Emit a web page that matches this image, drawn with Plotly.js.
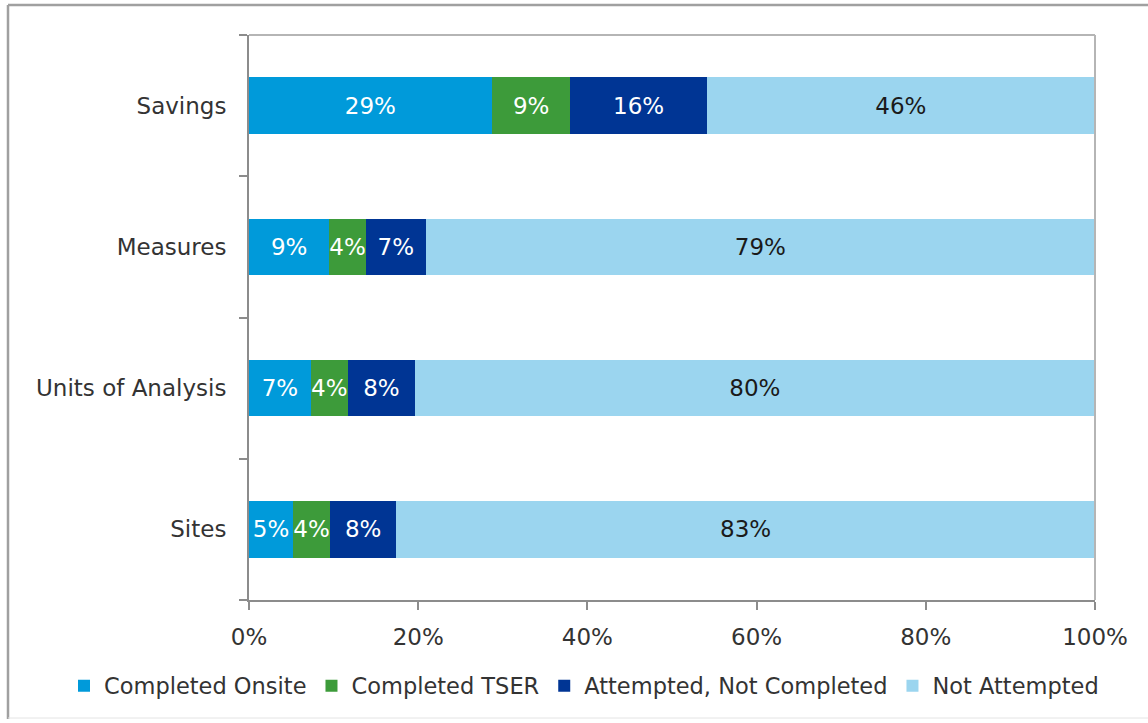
<!DOCTYPE html>
<html>
<head>
<meta charset="utf-8">
<script src="https://cdn.plot.ly/plotly-3.0.1.min.js"></script>
<style>
  html, body { margin: 0; padding: 0; background: #fff; }
  #chart { width: 1148px; height: 723px; }
</style>
</head>
<body>
<div id="chart"></div>
<script>
// ---- Data ----
const categories = ["Sites", "Units of Analysis", "Measures", "Savings"];
const seriesNames = ["Completed Onsite", "Completed TSER", "Attempted, Not Completed", "Not Attempted"];
const completedOnsite = [5.2, 7.3, 9.5, 28.7];
const completedTSER = [4.4, 4.4, 4.3, 9.3];
const attemptedNotCompleted = [7.8, 7.9, 7.1, 16.1];
const notAttempted = [82.6, 80.4, 79.1, 45.9];
const onsiteLabels = ["5%", "7%", "9%", "29%"];
const tserLabels = ["4%", "4%", "4%", "9%"];
const attemptedLabels = ["8%", "8%", "7%", "16%"];
const notAttemptedLabels = ["83%", "80%", "79%", "46%"];
const xTickVals = [0, 20, 40, 60, 80, 100];
const xTickText = ["0%", "20%", "40%", "60%", "80%", "100%"];

// ---- Styles ----
const colors = ["#009ADA", "#3D9B3A", "#003594", "#9BD5EF"];
const textColors = ["#FFFFFF", "#FFFFFF", "#FFFFFF", "#1a1a1a"];
const FONT = "DejaVu Sans, Verdana, sans-serif";
const FS = 23;

const values = [completedOnsite, completedTSER, attemptedNotCompleted, notAttempted];
const labels = [onsiteLabels, tserLabels, attemptedLabels, notAttemptedLabels];

const traces = seriesNames.map((name, i) => ({
  type: "bar",
  orientation: "h",
  name: name,
  y: categories,
  x: values[i],
  text: labels[i],
  textposition: "inside",
  insidetextanchor: "middle",
  textangle: 0,
  constraintext: "none",
  cliponaxis: false,
  textfont: { family: FONT, size: FS, color: textColors[i] },
  marker: { color: colors[i], line: { width: 0 } },
  hoverinfo: "skip"
}));

// pixel helpers for decorative frame (plot area 249..1095 x 35..600)
const L = 249, R = 1095, T = 35, B = 600;
const px = p => (p - L) / (R - L);
const py = q => (B - q) / (B - T);

const layout = {
  width: 1148,
  height: 723,
  margin: { l: L, r: 1148 - R, t: T, b: 723 - B, pad: 0, autoexpand: false },
  paper_bgcolor: "#ffffff",
  plot_bgcolor: "#ffffff",
  barmode: "stack",
  bargap: 0.6,
  showlegend: true,
  font: { family: FONT, size: FS, color: "#333333" },
  legend: {
    orientation: "h",
    x: px(64), xanchor: "left",
    y: py(686), yanchor: "middle",
    traceorder: "normal",
    bgcolor: "rgba(0,0,0,0)",
    font: { family: FONT, size: 22.5, color: "#333333" },
    itemclick: false
  },
  xaxis: {
    range: [0, 100],
    tickvals: xTickVals,
    ticktext: xTickText,
    ticks: "outside",
    ticklen: 8,
    tickcolor: "#8c8c8c",
    tickwidth: 2,
    showline: true,
    linecolor: "#8c8c8c",
    linewidth: 2,
    showgrid: false,
    zeroline: false,
    tickangle: 0,
    ticklabelstandoff: 7,
    tickfont: { family: FONT, size: FS, color: "#333333" },
    fixedrange: true
  },
  yaxis: {
    type: "category",
    categoryorder: "array",
    categoryarray: categories,
    ticks: "outside",
    tickson: "boundaries",
    ticklen: 8,
    tickcolor: "#8c8c8c",
    tickwidth: 2,
    showline: true,
    linecolor: "#8c8c8c",
    linewidth: 2,
    showgrid: false,
    zeroline: false,
    ticklabelstandoff: 16,
    tickfont: { family: FONT, size: FS, color: "#333333" },
    fixedrange: true
  },
  shapes: [
    // plot-area top and right borders
    { type: "line", xref: "paper", yref: "paper", x0: 0, x1: 1, y0: 1, y1: 1,
      line: { color: "#b5b5b5", width: 2 } },
    { type: "line", xref: "paper", yref: "paper", x0: 1, x1: 1, y0: 0, y1: 1,
      line: { color: "#b5b5b5", width: 2 } },
    // outer frame
    { type: "line", xref: "paper", yref: "paper", x0: px(8), x1: px(1148), y0: py(5), y1: py(5),
      line: { color: "#a0a0a0", width: 2.5 } },
    { type: "line", xref: "paper", yref: "paper", x0: px(8), x1: px(8), y0: py(5), y1: py(719),
      line: { color: "#a0a0a0", width: 2.5 } },
    { type: "line", xref: "paper", yref: "paper", x0: px(8), x1: px(1148), y0: py(718), y1: py(718),
      line: { color: "#e4e4e4", width: 1 } }
  ]
};

Plotly.newPlot("chart", traces, layout, { displayModeBar: false, staticPlot: true });
</script>
</body>
</html>
